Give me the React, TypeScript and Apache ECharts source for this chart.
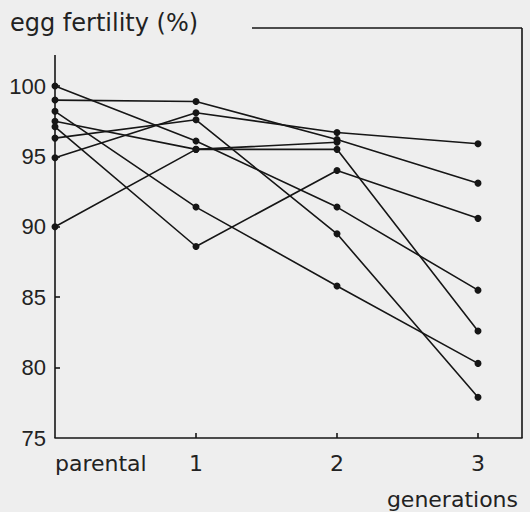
import React, { useEffect, useRef } from "react";
import * as echarts from "echarts";

// categories on the x axis (positions 0..3)
const generations = ["parental", "1", "2", "3"];
const yTicks = [75, 80, 85, 90, 95, 100];

// egg fertility (%) per line, parental -> generation 3 (null = no point)
const lineA = [99.0, 98.9, 96.2, 93.1];
const lineB = [94.9, 98.1, 96.7, 95.9];
const lineC = [90.0, 95.5, 95.5, 82.6];
const lineD = [100.0, 96.1, 91.4, 85.5];
const lineE = [97.5, 95.5, 96.0, null];
const lineF = [96.3, 97.6, 89.5, 77.9];
const lineG = [98.2, 91.4, 85.8, 80.3];
const lineH = [97.1, 88.6, 94.0, 90.6];

const allLines = [lineA, lineB, lineC, lineD, lineE, lineF, lineG, lineH];

// layout
const W = 530;
const H = 512;
const GL = 55;
const GR = 522;
const GT = 28;
const GB = 438;
const INK = "#161616";

export default function App() {
  const ref = useRef<HTMLDivElement>(null);
  useEffect(() => {
    if (!ref.current) return;
    const chart = echarts.init(ref.current, null, { renderer: "svg" });
    const pxPerGen = 141;
    const pxPerUnit = 14.08;
    const xMax = (GR - GL) / pxPerGen;
    const yMax = 75 + (GB - GT) / pxPerUnit;
    chart.setOption({
      animation: false,
      backgroundColor: "#eeeeee",
      grid: { left: GL, right: W - GR, top: GT, bottom: H - GB, containLabel: false },
      xAxis: {
        type: "value",
        min: 0,
        max: xMax,
        axisLine: { show: true, lineStyle: { color: INK, width: 1.6 } },
        axisTick: {
          show: true,
          inside: true,
          length: 5,
          customValues: [1, 2, 3],
          lineStyle: { color: INK, width: 1.6 },
        },
        axisLabel: {
          customValues: [0, 1, 2, 3],
          formatter: (v: number) => generations[Math.round(v)] ?? "",
          fontSize: 22,
          fontFamily: "DejaVu Sans",
          color: "#222",
          margin: 14,
          alignMinLabel: "left",
        },
        splitLine: { show: false },
      },
      yAxis: {
        type: "value",
        min: 75,
        max: yMax,
        axisLine: { show: false },
        axisTick: {
          show: true,
          inside: true,
          length: 5,
          customValues: yTicks.slice(1),
          lineStyle: { color: INK, width: 1.6 },
        },
        axisLabel: {
          customValues: yTicks,
          fontSize: 22,
          fontFamily: "'Liberation Sans Narrow', 'Liberation Sans', Arial, sans-serif",
          color: "#222",
          margin: 9,
        },
        splitLine: { show: false },
      },
      graphic: [
        {
          type: "line",
          shape: { x1: GL, y1: 55, x2: GL, y2: GB },
          style: { stroke: INK, lineWidth: 1.6 },
        },
        {
          type: "line",
          shape: { x1: 252, y1: GT, x2: GR, y2: GT },
          style: { stroke: INK, lineWidth: 1.6 },
        },
        {
          type: "line",
          shape: { x1: GR, y1: GT, x2: GR, y2: GB },
          style: { stroke: INK, lineWidth: 1.6 },
        },
        {
          type: "text",
          style: {
            text: "egg fertility (%)",
            x: 10,
            y: 23,
            textVerticalAlign: "middle",
            font: "24px 'DejaVu Sans'",
            fill: "#222",
          },
        },
        {
          type: "text",
          style: {
            text: "generations",
            x: 518,
            y: 499,
            textAlign: "right",
            textVerticalAlign: "middle",
            font: "22px 'DejaVu Sans'",
            fill: "#222",
          },
        },
      ],
      series: allLines.map((vals, k) => ({
        type: "line",
        name: "line" + (k + 1),
        data: vals
          .map((v, i) => (v == null ? null : [i, v]))
          .filter((d) => d !== null),
        symbol: "circle",
        symbolSize: 7,
        lineStyle: { color: INK, width: 1.6 },
        itemStyle: { color: INK },
        emphasis: { disabled: true },
      })),
    });
    return () => chart.dispose();
  }, []);
  return (
    <div
      ref={ref}
      style={{ position: "absolute", left: 0, top: 0, width: W, height: H }}
    />
  );
}
